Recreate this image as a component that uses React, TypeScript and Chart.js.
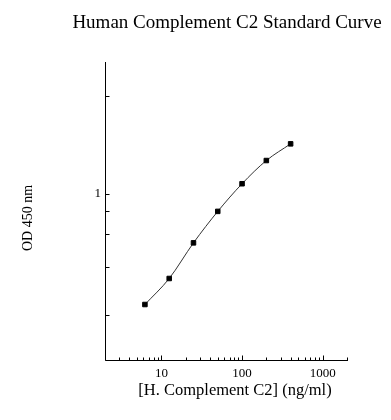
import React, { useEffect, useRef } from "react";
import { Chart, registerables } from "chart.js";

Chart.register(...registerables);

// ---- data ----
const concentrations = [6.25, 12.5, 25, 50, 100, 200, 400];
const odValues = [0.25, 0.346, 0.54, 0.8, 1.13, 1.51, 1.86];

// ---- axes / ticks ----
const xTickValues = [2, 3, 4, 5, 6, 7, 8, 9, 10, 20, 30, 40, 50, 60, 70, 80, 90, 100, 200, 300, 400, 500, 600, 700, 800, 900, 1000, 2000];
const xLabeledTicks = [10, 100, 1000];
const yTickValues = [3.4, 1, 0.8, 0.6, 0.4, 0.22];
const yLabeledTicks = [1];
const xMin = 2;
const xMax = 2000;
const yMin = 0.125;
const yMax = 5.17;

const titleText = "Human Complement C2 Standard Curve";
const xTitle = "[H. Complement C2] (ng/ml)";
const yTitle = "OD 450 nm";

const FONT = "'Liberation Serif', 'Times New Roman', serif";

const axisPlugin = {
  id: "customAxes",
  afterDraw(chart: any) {
    const { ctx, chartArea, scales } = chart;
    const xs = scales.x;
    const ys = scales.y;
    const L = Math.round(chartArea.left) + 0.5;
    const B = Math.round(chartArea.bottom) + 0.5;
    ctx.save();
    ctx.strokeStyle = "#000";
    ctx.lineWidth = 1;
    ctx.beginPath();
    ctx.moveTo(L, Math.round(chartArea.top));
    ctx.lineTo(L, B);
    ctx.lineTo(Math.round(chartArea.right) + 1, B);
    xTickValues.forEach((v) => {
      const px = Math.round(xs.getPixelForValue(v)) + 0.5;
      const len = xLabeledTicks.includes(v) ? 5 : 3;
      ctx.moveTo(px, B);
      ctx.lineTo(px, B - len);
    });
    yTickValues.forEach((v) => {
      const py = Math.round(ys.getPixelForValue(v)) + 0.5;
      ctx.moveTo(L, py);
      ctx.lineTo(L + 4, py);
    });
    ctx.stroke();

    const midX = (chartArea.left + chartArea.right) / 2;
    const midY = (chartArea.top + chartArea.bottom) / 2;
    ctx.fillStyle = "#000";
    ctx.textAlign = "center";
    ctx.textBaseline = "middle";

    // chart title
    ctx.font = `19px ${FONT}`;
    ctx.fillText(titleText, midX + 1, 23);

    // x-axis title
    ctx.font = `16.5px ${FONT}`;
    ctx.fillText(xTitle, midX + 9, chartArea.bottom + 31);

    // y-axis title
    ctx.save();
    ctx.translate(28, midY + 7);
    ctx.rotate(-Math.PI / 2);
    ctx.font = `14px ${FONT}`;
    ctx.fillText(yTitle, 0, 0);
    ctx.restore();

    ctx.restore();
  },
};

export default function App() {
  const ref = useRef<HTMLCanvasElement | null>(null);

  useEffect(() => {
    document.body.style.margin = "0";
    const canvas = ref.current;
    if (!canvas) return;
    const chart = new Chart(canvas, {
      type: "line",
      data: {
        datasets: [
          {
            data: concentrations.map((c, i) => ({ x: c, y: odValues[i] })),
            borderColor: "#333",
            borderWidth: 1,
            cubicInterpolationMode: "monotone",
            pointStyle: "rect",
            pointRadius: 3.2,
            pointBackgroundColor: "#000",
            pointBorderColor: "#000",
            pointBorderWidth: 1,
            fill: false,
          },
        ],
      },
      options: {
        animation: false,
        responsive: false,
        devicePixelRatio: 1,
        layout: { padding: { left: 0, right: 44, top: 62, bottom: 0 } },
        plugins: {
          legend: { display: false },
          tooltip: { enabled: false },
          title: { display: false },
        },
        scales: {
          x: {
            type: "logarithmic",
            min: xMin,
            max: xMax,
            afterBuildTicks: (s: any) => {
              s.ticks = xTickValues.map((v) => ({ value: v }));
            },
            afterFit: (s: any) => {
              s.height = 60;
            },
            grid: { display: false, drawTicks: false },
            border: { display: false },
            ticks: {
              autoSkip: false,
              maxRotation: 0,
              padding: 6,
              color: "#000",
              font: { family: FONT, size: 13 },
              callback: (v: any) => (xLabeledTicks.includes(Number(v)) ? String(v) : ""),
            },
            title: { display: false },
          },
          y: {
            type: "logarithmic",
            min: yMin,
            max: yMax,
            afterBuildTicks: (s: any) => {
              s.ticks = yTickValues.map((v) => ({ value: v }));
            },
            afterFit: (s: any) => {
              s.width = 105;
            },
            grid: { display: false, drawTicks: false },
            border: { display: false },
            ticks: {
              autoSkip: false,
              padding: 4,
              color: "#000",
              font: { family: FONT, size: 13 },
              callback: (v: any) => (yLabeledTicks.includes(Number(v)) ? String(v) : ""),
            },
            title: { display: false },
          },
        },
      },
      plugins: [axisPlugin],
    } as any);
    return () => chart.destroy();
  }, []);

  return (
    <div style={{ width: 391, height: 420, background: "#fff" }}>
      <canvas ref={ref} width={391} height={420} style={{ display: "block" }} />
    </div>
  );
}
